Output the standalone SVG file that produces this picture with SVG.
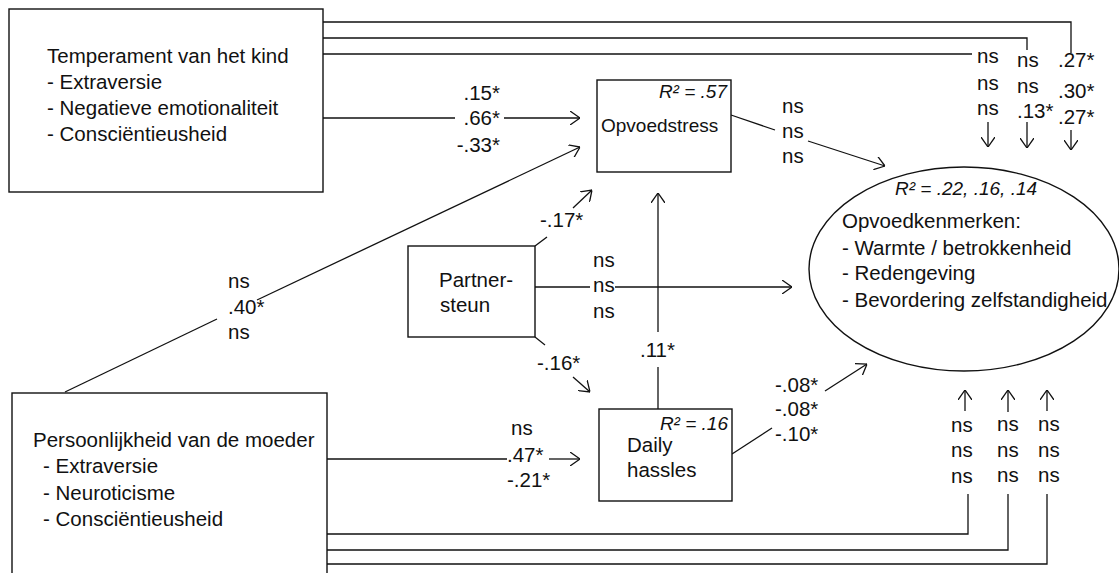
<svg xmlns="http://www.w3.org/2000/svg" width="1119" height="573" viewBox="0 0 1119 573">
<style>
text{font-family:"Liberation Sans",Arial,sans-serif;font-size:20.5px;fill:#111}
.it{font-style:italic;font-size:19px}
.sm{font-size:19px}
.box{fill:#fff;stroke:#111;stroke-width:1.4}
.ln{fill:none;stroke:#111;stroke-width:1.3}
.ar{fill:none;stroke:#111;stroke-width:1.3;marker-end:url(#ah)}
</style>
<defs>
<marker id="ah" viewBox="0 0 10 14" refX="10" refY="7" markerWidth="10" markerHeight="14" markerUnits="userSpaceOnUse" orient="auto">
<path d="M0,0 L10,7 L0,14" fill="none" stroke="#111" stroke-width="1.3"/>
</marker>
</defs>
<rect width="1119" height="573" fill="#fff"/>

<g id="connectors">
<polyline class="ln" points="323,22 1071,22 1071,53"/>
<polyline class="ln" points="323,38 1027,38 1027,50"/>
<line class="ln" x1="323" y1="54" x2="972" y2="54"/>
<line class="ar" x1="988" y1="122" x2="988" y2="147"/>
<line class="ar" x1="1027" y1="122" x2="1027" y2="148"/>
<line class="ar" x1="1071" y1="130" x2="1071" y2="150"/>
<line class="ln" x1="323" y1="118" x2="455" y2="118"/>
<line class="ar" x1="504" y1="118" x2="580" y2="118"/>
<line class="ln" x1="65" y1="392" x2="217" y2="319"/>
<line class="ar" x1="257" y1="300" x2="580" y2="147"/>
<line class="ln" x1="731" y1="115" x2="775" y2="130"/>
<line class="ar" x1="808" y1="141" x2="885" y2="166"/>
<line class="ln" x1="535" y1="246" x2="547" y2="237"/>
<line class="ar" x1="573" y1="208" x2="592" y2="190"/>
<line class="ln" x1="535" y1="337" x2="545" y2="345"/>
<line class="ar" x1="573" y1="377" x2="590" y2="392"/>
<line class="ln" x1="535" y1="287" x2="590" y2="287"/>
<line class="ar" x1="615" y1="287" x2="792" y2="287"/>
<line class="ar" x1="658" y1="332" x2="658" y2="193"/>
<line class="ln" x1="658" y1="367" x2="658" y2="409"/>
<line class="ln" x1="327" y1="459" x2="507" y2="459"/>
<line class="ar" x1="549" y1="459" x2="580" y2="459"/>
<line class="ln" x1="732" y1="454" x2="772" y2="428"/>
<line class="ar" x1="825" y1="391" x2="867" y2="364"/>
<polyline class="ln" points="327,534 968,534 968,494"/>
<polyline class="ln" points="327,550 1008,550 1008,494"/>
<polyline class="ln" points="327,564 1047,564 1047,494"/>
<line class="ar" x1="965" y1="411" x2="965" y2="390"/>
<line class="ar" x1="1008" y1="412" x2="1008" y2="390"/>
<line class="ar" x1="1047" y1="411" x2="1047" y2="390"/>
</g>

<g id="labels">
<text x="500" y="100" text-anchor="end">.15*</text>
<text x="500" y="125" text-anchor="end">.66*</text>
<text x="500" y="152" text-anchor="end">-.33*</text>
<text x="228" y="288">ns</text>
<text x="228" y="314">.40*</text>
<text x="228" y="339">ns</text>
<text x="782" y="113">ns</text>
<text x="782" y="138">ns</text>
<text x="782" y="163">ns</text>
<text x="977" y="63">ns</text>
<text x="977" y="90">ns</text>
<text x="977" y="115">ns</text>
<text x="1017" y="67">ns</text>
<text x="1017" y="93">ns</text>
<text x="1017" y="118">.13*</text>
<text x="1058" y="67">.27*</text>
<text x="1058" y="98">.30*</text>
<text x="1058" y="124">.27*</text>
<text x="540" y="227">-.17*</text>
<text x="537" y="370">-.16*</text>
<text x="593" y="267">ns</text>
<text x="593" y="292">ns</text>
<text x="593" y="318">ns</text>
<text x="640" y="357">.11*</text>
<text x="511" y="435">ns</text>
<text x="507" y="462">.47*</text>
<text x="507" y="487">-.21*</text>
<text x="775" y="392">-.08*</text>
<text x="775" y="416">-.08*</text>
<text x="775" y="441">-.10*</text>
<text x="951" y="432">ns</text>
<text x="951" y="457">ns</text>
<text x="951" y="483">ns</text>
<text x="997" y="431">ns</text>
<text x="997" y="457">ns</text>
<text x="997" y="482">ns</text>
<text x="1038" y="431">ns</text>
<text x="1038" y="457">ns</text>
<text x="1038" y="482">ns</text>
</g>

<g id="temperament">
<rect class="box" x="9" y="9" width="314" height="183"/>
<text x="47" y="63">Temperament van het kind</text>
<text x="47" y="89">- Extraversie</text>
<text x="47" y="115">- Negatieve emotionaliteit</text>
<text x="47" y="141">- Consciëntieusheid</text>
</g>

<g id="opvoedstress">
<rect class="box" x="597" y="80" width="134" height="92"/>
<text class="it" x="727" y="98" text-anchor="end">R² = .57</text>
<text class="sm" x="601" y="132">Opvoedstress</text>
</g>

<g id="partnersteun">
<rect class="box" x="408" y="246" width="127" height="91"/>
<text x="439" y="287">Partner-</text>
<text x="440" y="312">steun</text>
</g>

<g id="dailyhassles">
<rect class="box" x="599" y="409" width="133" height="92"/>
<text class="it" x="728" y="430" text-anchor="end">R² = .16</text>
<text x="627" y="452">Daily</text>
<text x="627" y="477">hassles</text>
</g>

<g id="moeder">
<rect class="box" x="12" y="393" width="315" height="190"/>
<text x="33" y="447">Persoonlijkheid van de moeder</text>
<text x="43" y="473">- Extraversie</text>
<text x="43" y="500">- Neuroticisme</text>
<text x="43" y="526">- Consciëntieusheid</text>
</g>

<g id="opvoedkenmerken">
<ellipse class="box" cx="964" cy="269" rx="155" ry="102"/>
<text class="it" x="895" y="195">R² = .22, .16, .14</text>
<text x="842" y="228">Opvoedkenmerken:</text>
<text x="842" y="255">- Warmte / betrokkenheid</text>
<text x="842" y="280">- Redengeving</text>
<text x="842" y="307">- Bevordering zelfstandigheid</text>
</g>
</svg>
